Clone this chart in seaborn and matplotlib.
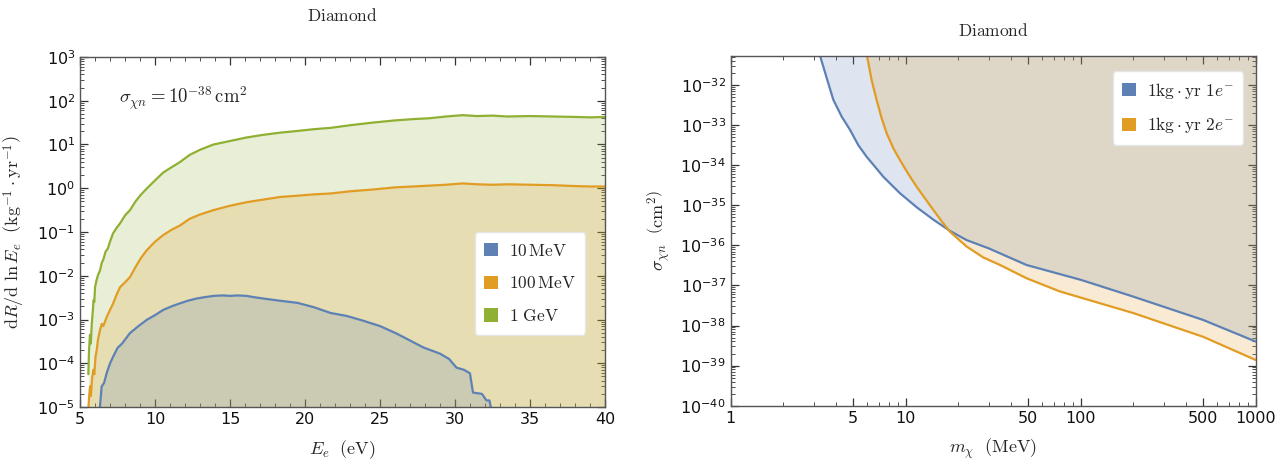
import numpy as np
import pandas as pd
import matplotlib
matplotlib.use("Agg")
import matplotlib.pyplot as plt
from matplotlib.patches import Patch
from matplotlib.font_manager import FontProperties
from matplotlib.ticker import FixedLocator, NullFormatter, FuncFormatter
import seaborn as sns

# ---- left panel: event rate spectra (log10 of dR/dlnE) ----
e_green = [5.55, 5.60, 5.66, 5.72, 5.78, 5.84, 5.90, 5.95, 6.00, 6.10, 6.20, 6.33, 6.45, 6.55,
           6.70, 6.85, 7.00, 7.20, 7.45, 7.67, 8.00, 8.33, 8.70, 9.05, 9.44, 10.0, 10.55, 11.1,
           11.67, 12.3, 13.0, 13.9, 15.0, 16.1, 17.2, 18.33, 19.5, 20.6, 21.7, 23.0, 24.5, 26.0,
           27.2, 28.3, 29.4, 30.5, 31.5, 32.5, 33.5, 35.0, 36.5, 38.0, 39.0, 40.0]
log_green = [-4.25, -3.70, -3.35, -3.55, -3.10, -2.85, -2.56, -2.60, -2.26, -2.10, -1.98, -1.88,
             -1.70, -1.63, -1.45, -1.38, -1.22, -1.03, -0.90, -0.80, -0.62, -0.50, -0.30, -0.15,
             -0.01, 0.18, 0.36, 0.48, 0.60, 0.76, 0.88, 1.00, 1.08, 1.16, 1.22, 1.27, 1.31, 1.35,
             1.38, 1.44, 1.50, 1.55, 1.58, 1.60, 1.64, 1.67, 1.65, 1.66, 1.64, 1.65, 1.64, 1.63,
             1.62, 1.63]

e_orange = [5.52, 5.62, 5.67, 5.72, 5.80, 5.89, 5.95, 6.03, 6.11, 6.20, 6.33, 6.45, 6.55, 6.78,
            7.00, 7.20, 7.45, 7.67, 8.00, 8.33, 8.70, 9.05, 9.44, 10.0, 10.55, 11.1, 11.67, 12.3,
            13.0, 13.9, 15.0, 16.1, 17.2, 18.33, 19.5, 20.6, 21.7, 23.0, 24.5, 26.0, 27.2, 28.3,
            29.4, 30.5, 31.5, 32.5, 33.5, 35.0, 36.5, 38.0, 39.0, 40.0]
log_orange = [-5.2, -4.70, -4.53, -4.75, -4.35, -4.15, -4.25, -3.85, -3.70, -3.45, -3.24, -3.10,
              -3.15, -2.94, -2.78, -2.64, -2.42, -2.26, -2.15, -2.03, -1.80, -1.60, -1.42, -1.22,
              -1.07, -0.95, -0.85, -0.70, -0.60, -0.50, -0.40, -0.32, -0.26, -0.20, -0.17, -0.14,
              -0.12, -0.07, -0.03, 0.02, 0.04, 0.06, 0.08, 0.11, 0.09, 0.08, 0.09, 0.08, 0.07,
              0.05, 0.04, 0.04]

e_blue = [6.30, 6.44, 6.60, 6.78, 7.00, 7.22, 7.50, 7.80, 8.33, 8.90, 9.44, 10.0, 10.55, 11.1,
          11.67, 12.2, 12.78, 13.3, 13.9, 14.5, 15.0, 15.5, 16.1, 16.6, 17.2, 18.3, 19.5, 20.6,
          21.7, 22.8, 23.9, 25.0, 26.1, 27.0, 27.9, 29.0, 29.6, 30.1, 30.6, 31.0, 31.2, 31.8,
          32.1, 32.3, 32.5]
log_blue = [-5.1, -4.53, -4.45, -4.22, -4.00, -3.84, -3.65, -3.55, -3.31, -3.15, -3.01, -2.90,
            -2.78, -2.70, -2.63, -2.57, -2.52, -2.49, -2.46, -2.45, -2.46, -2.45, -2.46, -2.49,
            -2.52, -2.57, -2.62, -2.72, -2.85, -2.92, -3.03, -3.15, -3.32, -3.48, -3.64, -3.78,
            -3.90, -4.10, -4.15, -4.23, -4.67, -4.70, -4.85, -4.85, -5.2]

rate_labels = [r'$10\,\mathrm{MeV}$', r'$100\,\mathrm{MeV}$', r'$1\ \mathrm{GeV}$']

# ---- right panel: exclusion curves (log10 sigma) ----
m_1e = [3.0, 3.24, 3.54, 3.86, 4.31, 4.81, 5.36, 5.98, 6.68, 7.45, 9.27, 11.56, 14.4, 17.9,
        22.3, 30.0, 34.6, 49.0, 100.0, 200.0, 500.0, 1000.0]
logsig_1e = [-30.9, -31.27, -31.83, -32.37, -32.79, -33.12, -33.50, -33.79, -34.04, -34.29,
             -34.70, -35.05, -35.36, -35.64, -35.87, -36.08, -36.20, -36.49, -36.86, -37.28,
             -37.86, -38.40]
m_2e = [5.8, 6.0, 6.39, 6.82, 7.29, 7.78, 8.5, 9.27, 10.35, 11.56, 14.4, 16.06, 17.9, 22.3,
        27.7, 34.6, 49.0, 76.0, 200.0, 500.0, 1000.0]
logsig_2e = [-30.9, -31.25, -31.88, -32.37, -32.83, -33.20, -33.58, -33.87, -34.22, -34.54,
             -35.12, -35.40, -35.66, -36.03, -36.30, -36.49, -36.82, -37.15, -37.69, -38.28,
             -38.86]
limit_labels = [r'$1\mathrm{kg}\cdot\mathrm{yr}\ 1e^{-}$', r'$1\mathrm{kg}\cdot\mathrm{yr}\ 2e^{-}$']

c_blue, c_orange, c_green = '#5E81B5', '#E19C24', '#8FB032'

sns.set_theme(style='ticks')
plt.rcParams['font.family'] = ['DejaVu Sans']
plt.rcParams['mathtext.fontset'] = 'dejavusans'
cm_prop = FontProperties(size=12.5, math_fontfamily='cm')


def log_ticks(lo, hi):
    major = [10.0 ** k for k in range(lo, hi + 1)]
    minor = [j * 10.0 ** k for k in range(lo - 1, hi + 1) for j in range(2, 10)]
    return major, minor


fig = plt.figure(figsize=(12.83, 4.66), dpi=100)
ax1 = fig.add_axes([0.0624, 0.1266, 0.4091, 0.7511])
ax2 = fig.add_axes([0.5695, 0.1294, 0.4092, 0.7511])

# left panel
curves = [(e_blue, log_blue, c_blue), (e_orange, log_orange, c_orange), (e_green, log_green, c_green)]
for (e, lg, col) in curves[::-1]:
    df = pd.DataFrame({'E': e, 'rate': 10 ** np.array(lg)})
    ax1.fill_between(df['E'], df['rate'], 1e-6, color=col, alpha=0.2, lw=0)
    sns.lineplot(data=df, x='E', y='rate', ax=ax1, color=col, lw=1.6, sort=False)
ax1.set_yscale('log')
ax1.set_xlim(5, 40)
ax1.set_ylim(1e-5, 1e3)
ax1.xaxis.set_major_locator(FixedLocator(np.arange(5, 41, 5)))
ax1.xaxis.set_minor_locator(FixedLocator(np.arange(5, 41, 1)))
maj, mnr = log_ticks(-5, 3)
ax1.yaxis.set_major_locator(FixedLocator(maj))
ax1.yaxis.set_minor_locator(FixedLocator(mnr))
ax1.yaxis.set_minor_formatter(NullFormatter())
ax1.set_xlabel(r'$E_e\ \ (\mathrm{eV})$', fontsize=13, math_fontfamily='cm', labelpad=8)
ax1.set_ylabel(r'$\mathrm{d}R/\mathrm{d}\ \ln E_e\ \ \left(\mathrm{kg}^{-1}\cdot\mathrm{yr}^{-1}\right)$',
               fontsize=13, math_fontfamily='cm', labelpad=7)
ax1.set_title(r'$\mathrm{Diamond}$', fontsize=12.5, math_fontfamily='cm', pad=26)
ax1.text(7.6, 10 ** 2.05, r'$\sigma_{\chi n} = 10^{-38}\,\mathrm{cm}^2$', fontsize=13.5,
         math_fontfamily='cm', va='center', ha='left')
h1 = [Patch(facecolor=c, edgecolor='none') for c in (c_blue, c_orange, c_green)]
ax1.legend(h1, rate_labels, loc='upper left', bbox_to_anchor=(0.752, 0.5), prop=cm_prop,
           frameon=True, framealpha=1, edgecolor='#e6e6e6', fancybox=True, handlelength=0.8,
           handleheight=0.8, labelspacing=0.85, borderpad=0.55, handletextpad=0.6,
           borderaxespad=0)

# right panel
for (m, lg, col) in [(m_1e, logsig_1e, c_blue), (m_2e, logsig_2e, c_orange)]:
    df = pd.DataFrame({'m': m, 'sigma': 10 ** np.array(lg)})
    ax2.fill_between(df['m'], df['sigma'], 1e-29, color=col, alpha=0.2, lw=0)
    sns.lineplot(data=df, x='m', y='sigma', ax=ax2, color=col, lw=1.6, sort=False)
ax2.set_xscale('log')
ax2.set_yscale('log')
ax2.set_xlim(1, 1000)
ax2.set_ylim(1e-40, 10 ** -31.27)
ax2.xaxis.set_major_locator(FixedLocator([1, 5, 10, 50, 100, 500, 1000]))
ax2.xaxis.set_major_formatter(FuncFormatter(lambda v, p: f'{v:g}'))
minors = [d * k for d in (1, 10, 100) for k in range(2, 10) if k != 5]
ax2.xaxis.set_minor_locator(FixedLocator(minors))
ax2.xaxis.set_minor_formatter(NullFormatter())
maj, mnr = log_ticks(-40, -32)
ax2.yaxis.set_major_locator(FixedLocator(maj))
ax2.yaxis.set_minor_locator(FixedLocator(mnr))
ax2.yaxis.set_minor_formatter(NullFormatter())
ax2.set_xlabel(r'$m_\chi\ \ (\mathrm{MeV})$', fontsize=13, math_fontfamily='cm', labelpad=8)
ax2.set_ylabel(r'$\sigma_{\chi n}\ \ \left(\mathrm{cm}^2\right)$', fontsize=13,
               math_fontfamily='cm', labelpad=6)
ax2.set_title(r'$\mathrm{Diamond}$', fontsize=12.5, math_fontfamily='cm', pad=14)
h2 = [Patch(facecolor=c, edgecolor='none') for c in (c_blue, c_orange)]
ax2.legend(h2, limit_labels, loc='upper left', bbox_to_anchor=(0.728, 0.956), prop=cm_prop,
           frameon=True, framealpha=1, edgecolor='#e6e6e6', fancybox=True, handlelength=0.8,
           handleheight=0.8, labelspacing=0.85, borderpad=0.55, handletextpad=0.6,
           borderaxespad=0)

for ax in (ax1, ax2):
    for s in ax.spines.values():
        s.set_visible(True)
        s.set_color('#555555')
        s.set_linewidth(1.0)
    ax.tick_params(which='both', direction='in', top=True, right=True, color='#333333',
                   labelsize=11.5, labelcolor='#111111')
    ax.tick_params(which='major', length=6, width=0.9)
    ax.tick_params(which='minor', length=3, width=0.6)

fig.savefig('out.png', dpi=100)
